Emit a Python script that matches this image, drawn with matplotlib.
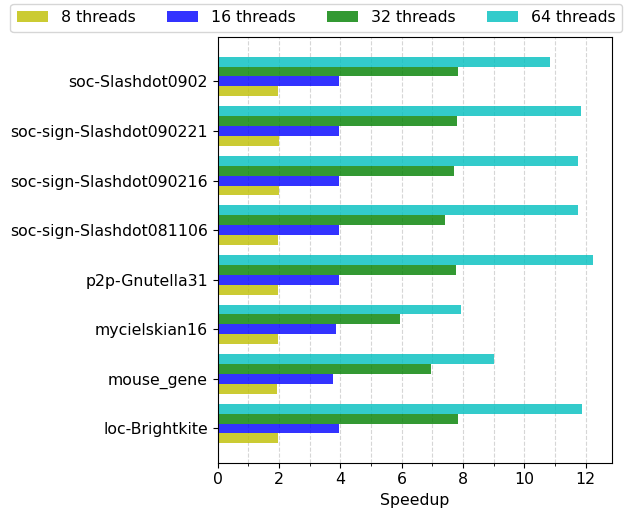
import matplotlib
matplotlib.use("Agg")
import matplotlib.pyplot as plt
import numpy as np
from matplotlib.ticker import MultipleLocator

plt.rcParams['font.size'] = 11.3

categories = ["loc-Brightkite", "mouse_gene", "mycielskian16", "p2p-Gnutella31",
              "soc-sign-Slashdot081106", "soc-sign-Slashdot090216",
              "soc-sign-Slashdot090221", "soc-Slashdot0902"]
series_names = ["8 threads", "16 threads", "32 threads", "64 threads"]
t8 = [1.98, 1.94, 1.98, 1.98, 1.98, 2.00, 2.00, 1.98]
t16 = [3.97, 3.75, 3.85, 3.97, 3.97, 3.94, 3.97, 3.94]
t32 = [7.84, 6.96, 5.93, 7.78, 7.41, 7.70, 7.81, 7.84]
t64 = [11.87, 9.00, 7.92, 12.24, 11.76, 11.76, 11.84, 10.83]
colors = ['y', 'b', 'g', 'c']

fig = plt.figure(figsize=(6.29, 5.14), dpi=100)
ax = fig.add_axes([0.3462, 0.0998, 0.9725 - 0.3462, 0.9274 - 0.0998])

y = np.arange(len(categories))
w = 0.2
for i, (vals, name, c) in enumerate(zip([t8, t16, t32, t64], series_names, colors)):
    ax.barh(y + (i - 1) * w, vals, height=w, color=c, alpha=0.8, label=name)

ax.set_yticks(y)
ax.set_yticklabels(categories)
ax.xaxis.set_major_locator(MultipleLocator(2))
ax.xaxis.set_minor_locator(MultipleLocator(1))
ax.grid(axis='x', which='both', linestyle='--', color='#cccccc', alpha=0.8)
ax.set_axisbelow(True)
ax.set_xlabel("Speedup")

fig.legend(loc='upper center', bbox_to_anchor=(0.5025, 0.992), ncol=4,
           borderaxespad=0)

fig.savefig("out.png", dpi=100)
